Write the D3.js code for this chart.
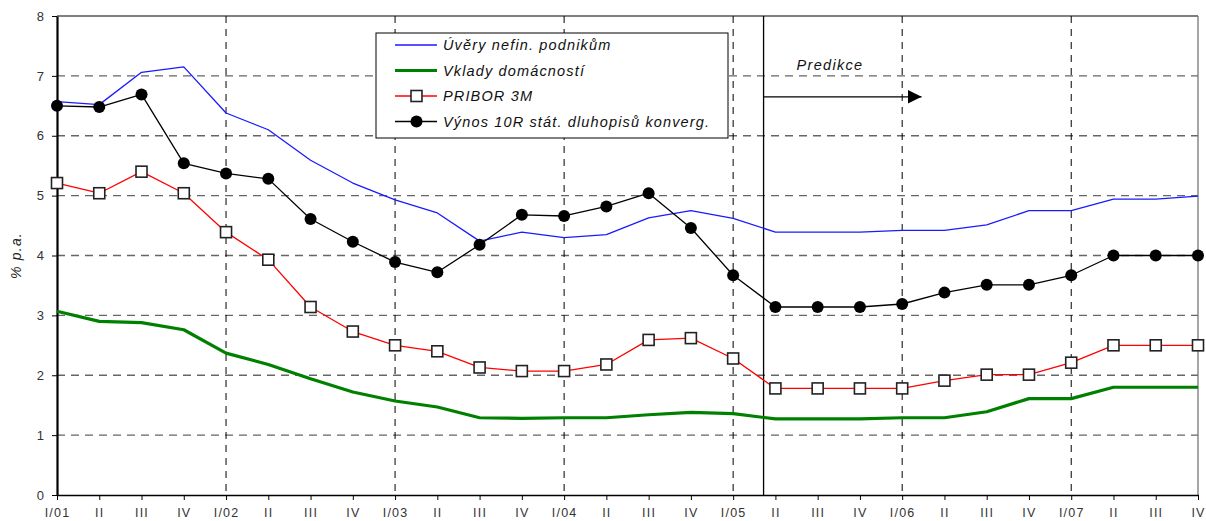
<!DOCTYPE html>
<html>
<head>
<meta charset="utf-8">
<script src="https://cdn.jsdelivr.net/npm/d3@7"></script>
<style>
  body { margin: 0; background: #fff; }
  text { font-family: "Liberation Sans", Arial, sans-serif; }
</style>
</head>
<body>
<svg id="chart" width="1206" height="521"></svg>
<script>
// Quarter labels along the x axis
const quarters = ["I/01","II","III","IV","I/02","II","III","IV","I/03","II","III","IV",
  "I/04","II","III","IV","I/05","II","III","IV","I/06","II","III","IV","I/07","II","III","IV"];

// Series (% p.a.)
const uvery = [6.57,6.52,7.06,7.15,6.38,6.10,5.59,5.21,4.93,4.71,4.24,4.39,
  4.30,4.35,4.63,4.75,4.62,4.39,4.39,4.39,4.42,4.42,4.51,4.75,4.75,4.94,4.94,4.99];
const vklady = [3.07,2.90,2.88,2.76,2.37,2.18,1.94,1.72,1.57,1.47,1.29,1.28,
  1.29,1.29,1.34,1.38,1.36,1.27,1.27,1.27,1.29,1.29,1.39,1.61,1.61,1.80,1.80,1.80];
const pribor = [5.21,5.04,5.40,5.04,4.39,3.93,3.14,2.73,2.50,2.40,2.13,2.07,
  2.07,2.18,2.59,2.62,2.28,1.78,1.78,1.78,1.78,1.91,2.01,2.01,2.21,2.50,2.50,2.50];
const vynos = [6.50,6.48,6.69,5.54,5.37,5.28,4.61,4.23,3.89,3.72,4.18,4.68,
  4.66,4.82,5.04,4.46,3.67,3.14,3.14,3.14,3.19,3.38,3.51,3.51,3.67,4.00,4.00,4.00];

const yTicks = [0,1,2,3,4,5,6,7,8];
const seriesNames = ["Úvěry nefin. podnikům","Vklady domácností","PRIBOR 3M","Výnos 10R stát. dluhopisů konverg."];
const predictionStart = 16.72; // between I/05 and II/05
const predictionLabel = "Predikce";

const svg = d3.select("#chart");
const margin = {left: 57, right: 8, top: 16, bottom: 26};
const W = 1206, H = 521;

const x = d3.scaleLinear().domain([0, quarters.length - 1]).range([margin.left, W - margin.right]);
const y = d3.scaleLinear().domain([0, 8]).range([H - margin.bottom, margin.top]);

// horizontal grid
svg.append("g")
  .selectAll("line")
  .data(yTicks.filter(d => d > 0 && d < 8))
  .join("line")
  .attr("x1", x(0)).attr("x2", x(quarters.length - 1))
  .attr("y1", d => y(d)).attr("y2", d => y(d))
  .attr("stroke", "#666").attr("stroke-width", 1.3)
  .attr("stroke-dasharray", "8,6");

// vertical grid at each year start
svg.append("g")
  .selectAll("line")
  .data(d3.range(4, quarters.length - 1, 4))
  .join("line")
  .attr("x1", d => x(d)).attr("x2", d => x(d))
  .attr("y1", y(8)).attr("y2", y(0))
  .attr("stroke", "#000").attr("stroke-width", 1)
  .attr("stroke-dasharray", "7,6");

// frame: top black, right gray
svg.append("line")
  .attr("x1", x(0)).attr("x2", x(quarters.length - 1))
  .attr("y1", y(8)).attr("y2", y(8))
  .attr("stroke", "#000").attr("stroke-width", 1.2);
svg.append("line")
  .attr("x1", x(quarters.length - 1)).attr("x2", x(quarters.length - 1))
  .attr("y1", y(8)).attr("y2", y(0))
  .attr("stroke", "#777").attr("stroke-width", 1.3);

// x axis
const xAxis = d3.axisBottom(x)
  .tickValues(d3.range(quarters.length))
  .tickFormat(i => quarters[i])
  .tickSize(5).tickSizeOuter(0);
const gx = svg.append("g")
  .attr("transform", `translate(0,${y(0)})`)
  .call(xAxis);
gx.select(".domain").attr("stroke", "#000").attr("stroke-width", 1.5);
gx.selectAll(".tick line").attr("stroke", "#000");
gx.selectAll(".tick text")
  .attr("dy", "1.1em")
  .attr("font-size", 12.5).attr("fill", "#333")
  .attr("letter-spacing", 1.2)
  .attr("font-family", "Liberation Sans, Arial, sans-serif");

// y axis
const yAxis = d3.axisLeft(y).tickValues(yTicks).tickSize(5).tickSizeOuter(0).tickPadding(8);
const gy = svg.append("g")
  .attr("transform", `translate(${x(0)},0)`)
  .call(yAxis);
gy.select(".domain").attr("stroke", "#000").attr("stroke-width", 2.2);
gy.selectAll(".tick line").attr("stroke", "#000");
gy.selectAll(".tick text")
  .attr("font-size", 13).attr("fill", "#333")
  .attr("font-family", "Liberation Sans, Arial, sans-serif");

svg.append("text")
  .attr("transform", `translate(21,${(y(0) + y(8)) / 2}) rotate(-90)`)
  .attr("text-anchor", "middle")
  .attr("font-size", 14).attr("font-style", "italic").attr("fill", "#222")
  .attr("letter-spacing", 1.2)
  .text("% p.a.");

// prediction divider and arrow
svg.append("line")
  .attr("x1", x(predictionStart)).attr("x2", x(predictionStart))
  .attr("y1", y(8)).attr("y2", y(0))
  .attr("stroke", "#000").attr("stroke-width", 1.3);

svg.append("defs").append("marker")
  .attr("id", "arrow").attr("viewBox", "0 0 10 10")
  .attr("refX", 10).attr("refY", 5)
  .attr("markerWidth", 14).attr("markerHeight", 14)
  .attr("markerUnits", "userSpaceOnUse")
  .attr("orient", "auto")
  .append("path").attr("d", "M0,0L10,5L0,10Z").attr("fill", "#000");

svg.append("line")
  .attr("x1", x(predictionStart)).attr("x2", x(predictionStart) + 158)
  .attr("y1", y(6.65)).attr("y2", y(6.65))
  .attr("stroke", "#000").attr("stroke-width", 1.3)
  .attr("marker-end", "url(#arrow)");

svg.append("text")
  .attr("x", x(predictionStart) + 33).attr("y", y(7.1))
  .attr("font-size", 14.5).attr("font-style", "italic").attr("fill", "#111")
  .attr("letter-spacing", 1.3)
  .text(predictionLabel);

// series lines
const line = d3.line().x((d, i) => x(i)).y(d => y(d));
const styles = [
  {data: uvery, color: "#1a1aff", width: 1.3},
  {data: vklady, color: "#008000", width: 3.2},
  {data: pribor, color: "#ff0000", width: 1.3},
  {data: vynos, color: "#000000", width: 1.3}
];
styles.forEach(s => {
  svg.append("path")
    .datum(s.data)
    .attr("fill", "none")
    .attr("stroke", s.color)
    .attr("stroke-width", s.width)
    .attr("stroke-linejoin", "round")
    .attr("d", line);
});

// markers
svg.append("g").selectAll("rect")
  .data(pribor)
  .join("rect")
  .attr("x", (d, i) => x(i) - 5.5).attr("y", d => y(d) - 5.5)
  .attr("width", 11).attr("height", 11)
  .attr("fill", "#fff").attr("stroke", "#222").attr("stroke-width", 1.6);

svg.append("g").selectAll("circle")
  .data(vynos)
  .join("circle")
  .attr("cx", (d, i) => x(i)).attr("cy", d => y(d))
  .attr("r", 6).attr("fill", "#000");

// legend
const lg = svg.append("g").attr("transform", "translate(376,33)");
lg.append("rect")
  .attr("width", 352).attr("height", 105)
  .attr("fill", "#fff").attr("stroke", "#000").attr("stroke-width", 1);
seriesNames.forEach((name, i) => {
  const ly = 12 + i * 25.5;
  lg.append("line")
    .attr("x1", 19).attr("x2", 61).attr("y1", ly).attr("y2", ly)
    .attr("stroke", styles[i].color).attr("stroke-width", styles[i].width);
  if (i === 2) {
    lg.append("rect").attr("x", 35).attr("y", ly - 5.5).attr("width", 11).attr("height", 11)
      .attr("fill", "#fff").attr("stroke", "#222").attr("stroke-width", 1.6);
  }
  if (i === 3) {
    lg.append("circle").attr("cx", 40.5).attr("cy", ly).attr("r", 6).attr("fill", "#000");
  }
  lg.append("text")
    .attr("x", 67).attr("y", ly + 5)
    .attr("font-size", 14.5).attr("font-style", "italic").attr("fill", "#111")
    .attr("letter-spacing", 1.15)
    .text(name);
});
</script>
</body>
</html>
